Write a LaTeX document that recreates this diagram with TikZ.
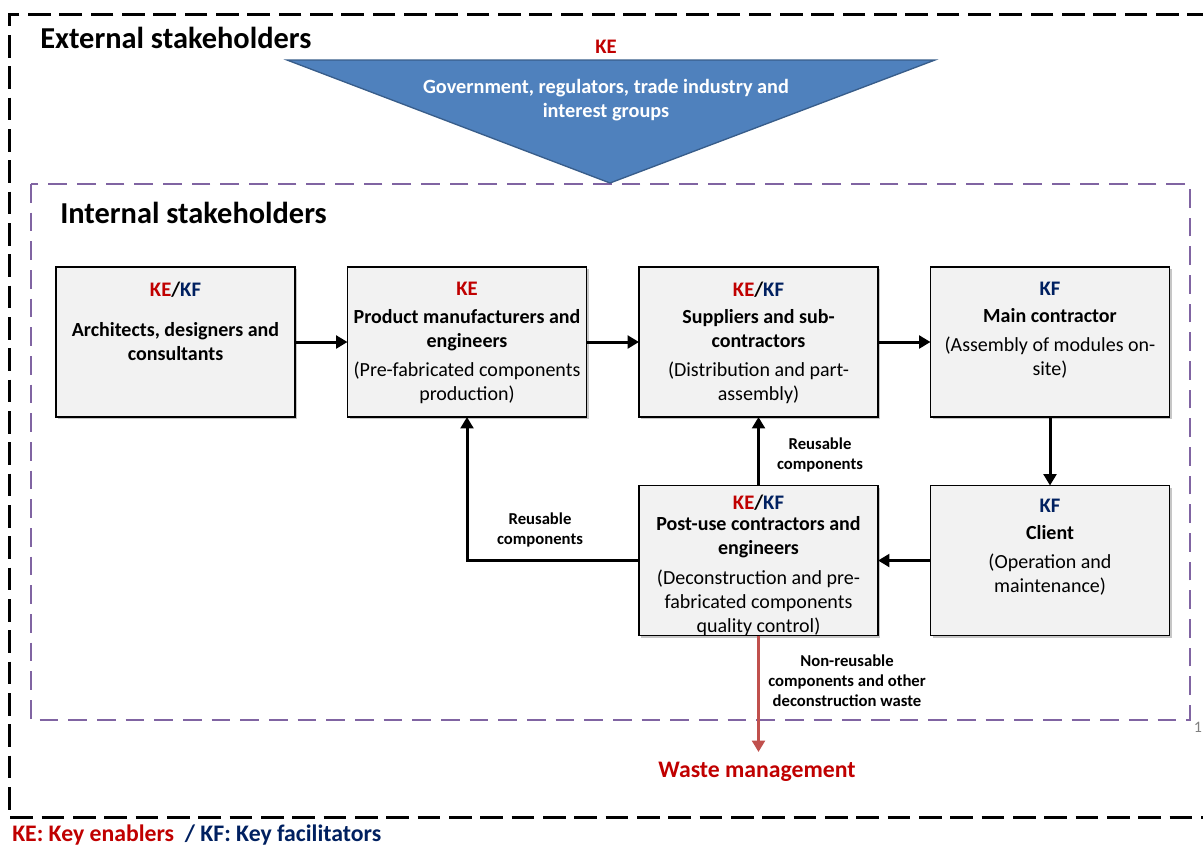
\documentclass[tikz,border=0pt]{standalone}
\usepackage{fontspec}
\setmainfont{Carlito}
\usetikzlibrary{arrows.meta,shadows}
\definecolor{kered}{HTML}{C00000}
\definecolor{kfblue}{HTML}{002060}
\definecolor{triblue}{HTML}{4F81BD}
\definecolor{triedge}{HTML}{385D8A}
\definecolor{purp}{HTML}{8064A2}
\definecolor{boxgray}{HTML}{F2F2F2}
\definecolor{wastered}{HTML}{C0504D}
\begin{document}
\begin{tikzpicture}[x=0.75pt,y=-0.75pt,
  outerframe/.style={draw=black,line width=2.25pt,dash pattern=on 17pt off 6.5pt},
  innerframe/.style={draw=purp,line width=2.2pt,dash pattern=on 14pt off 7.5pt},
  stakebox/.style={draw=black,line width=1.1pt,fill=boxgray,minimum width=179.25pt,minimum height=112.5pt,inner sep=0pt,outer sep=0pt,
    drop shadow={shadow xshift=1.5pt,shadow yshift=-1.5pt,opacity=0.45,fill=gray}},
  keylabel/.style={inner sep=0pt,font=\fontsize{15.5}{16}\selectfont\bfseries},
  boxtext/.style={inner sep=0pt,align=center,font=\fontsize{15}{18}\selectfont},
  smalllabel/.style={inner sep=0pt,align=center,font=\fontsize{12.5}{15}\selectfont\bfseries},
  heading/.style={inner sep=0pt,anchor=west,font=\fontsize{22.8}{24}\selectfont\bfseries},
  flowarrow/.style={line width=2.25pt,-{Triangle[length=8.5pt,width=9.5pt]}},
  wastearrow/.style={draw=wastered,line width=2.25pt,-{Triangle[length=8.5pt,width=9.5pt]}}
]
\useasboundingbox (0,0) rectangle (1203,847);
% frames
\draw[outerframe] (1210,14) -- (9,14) -- (9,817) -- (1210,817);
\draw[innerframe] (31,184) rectangle (1190,720);
\node[heading] (ext) at (40,38) {External stakeholders};
\node[heading] (int) at (60,213) {Internal stakeholders};
% triangle
\coordinate (tl) at (287,60);
\coordinate (tr) at (935,60);
\coordinate (tb) at (610,183);
\draw[fill=triblue,draw=triedge,line width=1pt] (tl) -- (tr) -- (tb) -- cycle;
\node[keylabel,text=kered] (govke) at (606,47) {KE};
\node[inner sep=0pt,align=center,text=white,font=\fontsize{15.2}{18}\selectfont\bfseries] (gov) at (606,100) {Government, regulators, trade industry and\\interest groups};
% boxes
\node[stakebox] (A) at (175.5,342) {};
\node[stakebox] (B) at (467,342) {};
\node[stakebox] (C) at (758.5,342) {};
\node[stakebox] (D) at (1050,342) {};
\node[stakebox] (E) at (758.5,560.5) {};
\node[stakebox] (F) at (1050,560.5) {};
% box labels
\node[keylabel] (Ak) at (175.5,290) {\textcolor{kered}{KE}/\textcolor{kfblue}{KF}};
\node[boxtext] (At) at (175.5,342) {\textbf{Architects, designers and}\\\textbf{consultants}};
\node[keylabel,text=kered] (Bk) at (467,289) {KE};
\node[boxtext] (Bt) at (467,356.5) {\textbf{Product manufacturers and}\\\textbf{engineers}\\[3.75pt](Pre-fabricated components\\production)};
\node[keylabel] (Ck) at (758.5,290) {\textcolor{kered}{KE}/\textcolor{kfblue}{KF}};
\node[boxtext] (Ct) at (758.5,356.5) {\textbf{Suppliers and sub-}\\\textbf{contractors}\\[3.75pt](Distribution and part-\\assembly)};
\node[keylabel,text=kfblue] (Dk) at (1050,289) {KF};
\node[boxtext] (Dt) at (1050,343.5) {\textbf{Main contractor}\\[3.75pt](Assembly of modules on-\\site)};
\node[keylabel] (Ek) at (758.5,503) {\textcolor{kered}{KE}/\textcolor{kfblue}{KF}};
\node[boxtext] (Et) at (758.5,576) {\textbf{Post-use contractors and}\\\textbf{engineers}\\[4pt](Deconstruction and pre-\\fabricated components\\quality control)};
\node[keylabel,text=kfblue] (Fk) at (1050,506) {KF};
\node[boxtext] (Ft) at (1050,560.5) {\textbf{Client}\\[3.75pt](Operation and\\maintenance)};
% arrows
\draw[flowarrow] (A) -- (B);
\draw[flowarrow] (B) -- (C);
\draw[flowarrow] (C) -- (D);
\draw[flowarrow] (D) -- (F);
\draw[flowarrow] (F) -- (E);
\draw[flowarrow] (E) -- (C);
\draw[flowarrow] (E.west) -| (B.south);
\coordinate (wend) at (758.5,752);
\draw[wastearrow] (E.south) -- (wend);
% arrow labels
\node[smalllabel] (r1) at (820,455) {Reusable\\components};
\node[smalllabel] (r2) at (540,530) {Reusable\\components};
\node[smalllabel] (nr) at (847,681) {Non-reusable\\components and other\\deconstruction waste};
\node[inner sep=0pt,text=kered,font=\fontsize{17.8}{20}\selectfont\bfseries] (waste) at (757,772) {Waste management};
% legend
\node[inner sep=0pt,anchor=west,font=\fontsize{17.8}{20}\selectfont\bfseries] (legend) at (12,835) {\textcolor{kered}{KE: Key enablers}\ \ \textcolor{kfblue}{/ KF: Key facilitators}};
\node[inner sep=0pt,text=gray,font=\fontsize{12}{14}\selectfont] (pg) at (1198,727) {1};
\end{tikzpicture}
\end{document}
